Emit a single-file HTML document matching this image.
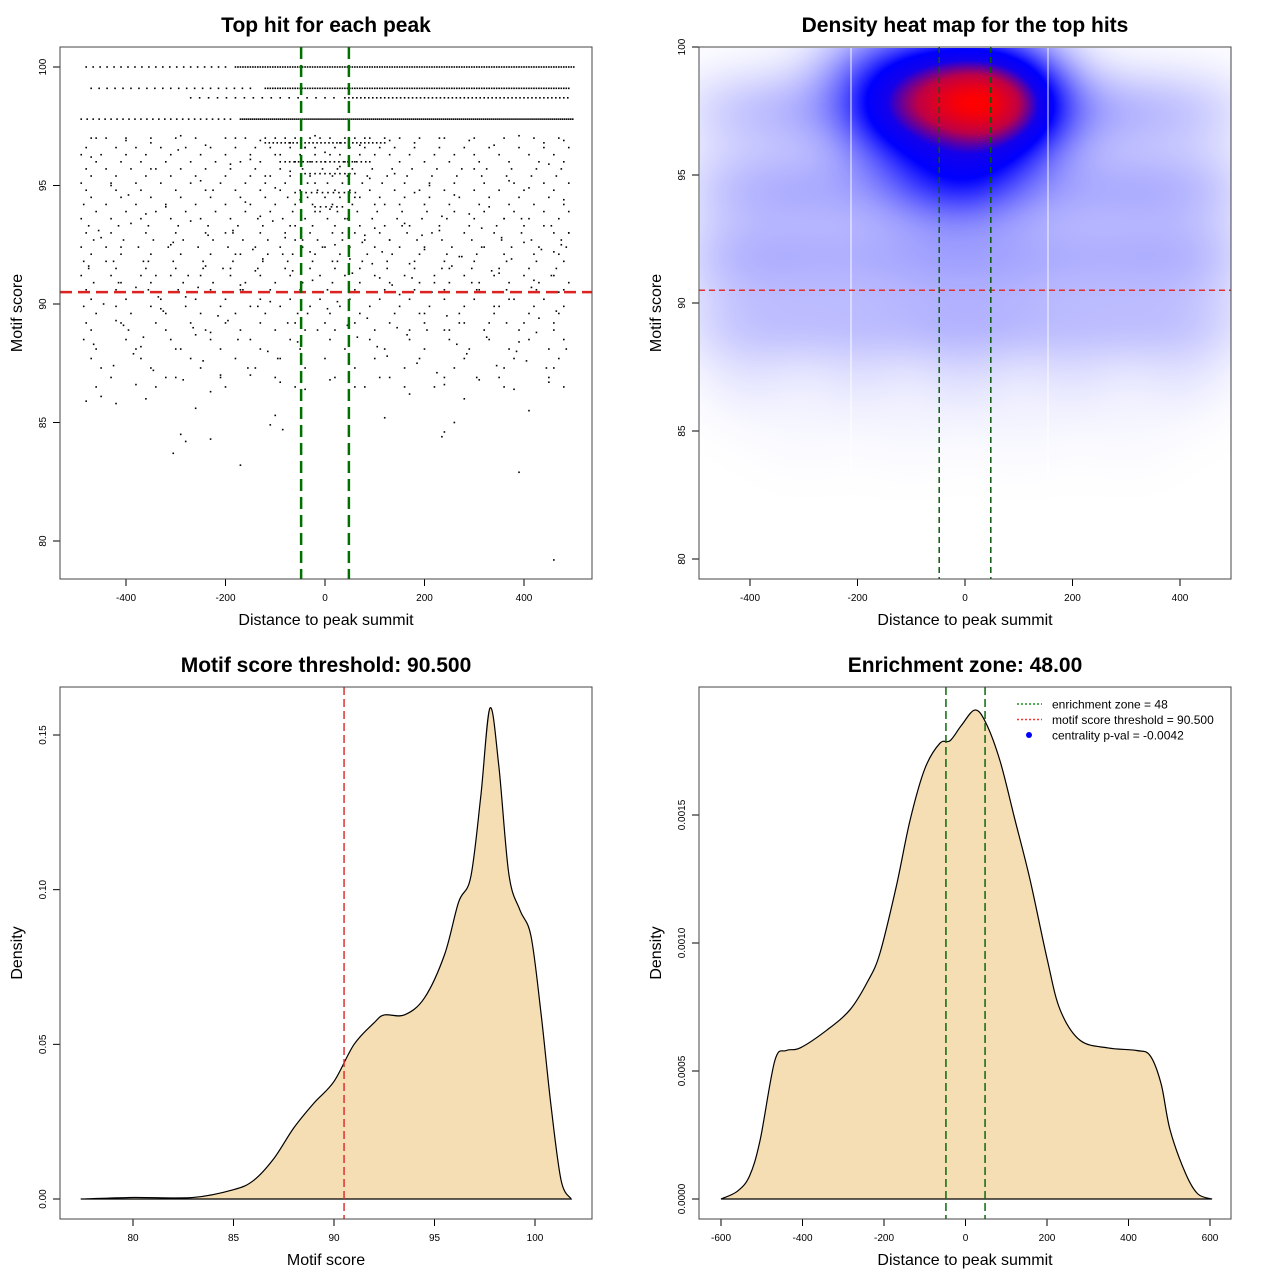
<!DOCTYPE html>
<html><head><meta charset="utf-8"><style>
body{margin:0;background:#fff;width:1280px;height:1280px;overflow:hidden;position:relative;font-family:"Liberation Sans",sans-serif}
#heat{position:absolute;left:700px;top:48px;z-index:0}
#main{position:absolute;left:0;top:0;z-index:1}
text{font-family:"Liberation Sans",sans-serif}
</style></head><body>
<canvas id="heat" width="531" height="531"></canvas>
<svg id="main" width="1280" height="1280" xmlns="http://www.w3.org/2000/svg"></svg>
<script>
// ---------- data ----------
const bandScores=[100,100,99.1,99.1,98.7,98.7,97.8,97.8,96.8,96.0,95.5,94.7,94.1];
const bandStarts=[-480,-180,-470,-120,-270,40,-490,-170,-120,-80,-40,-60,-20];
const bandEnds=[-200,500,-140,490,20,490,-190,500,120,90,60,70,40];
const bandGaps=[14,5,16,5,18,8,12,4,8,9,10,11,11];
const rowScores=[97.0,96.6,96.3,96.0,95.7,95.4,95.1,94.8,94.5,94.2,93.9,93.6,93.3,93.0,92.7,92.4,92.1,91.8,91.5,91.2,90.9,90.6,90.2,89.9,89.6,89.2,88.9,88.5,88.1,87.7,87.3,86.9,86.5];
const rowXs=[
[-470,-440,-400,-350,-300,-260,-200,-160,-120,-100,-80,-60,-30,-10,10,40,60,90,120,150,190,240,300,360,420,470],
[-480,-420,-380,-330,-280,-230,-180,-140,-110,-70,-40,-20,20,50,80,110,140,180,230,280,330,390,440,490],
[-490,-450,-400,-360,-310,-250,-200,-150,-100,-50,-20,10,30,70,100,130,170,220,260,300,350,410,460],
[-460,-410,-370,-320,-270,-220,-170,-130,-90,-60,-30,0,40,60,90,150,200,250,310,370,430,480],
[-480,-440,-390,-340,-290,-240,-190,-140,-90,-45,-5,25,55,95,135,175,225,275,325,375,425,475],
[-470,-420,-360,-310,-260,-200,-150,-110,-70,-30,15,45,85,125,165,215,265,315,365,415,465],
[-490,-430,-380,-330,-270,-210,-160,-120,-80,-35,5,35,75,115,160,210,260,320,380,440,490],
[-480,-420,-370,-300,-240,-180,-130,-90,-50,-15,20,50,90,140,190,240,300,350,400,460],
[-470,-410,-350,-290,-230,-170,-120,-75,-35,0,30,70,110,160,210,270,330,390,450],
[-485,-440,-380,-320,-260,-200,-150,-100,-60,-25,15,55,100,150,200,250,310,370,420,480],
[-460,-400,-340,-280,-220,-160,-110,-65,-20,25,65,105,155,205,260,320,380,440,490],
[-490,-430,-370,-310,-250,-190,-135,-85,-40,5,45,95,145,195,245,300,360,410,470],
[-475,-415,-355,-295,-235,-175,-125,-70,-25,20,70,120,170,230,290,345,400,455],
[-480,-430,-360,-300,-240,-185,-130,-80,-30,15,60,110,165,215,280,340,395,460,490],
[-465,-405,-345,-285,-225,-165,-115,-60,-15,35,80,130,185,235,295,355,415,475],
[-490,-440,-375,-315,-255,-195,-140,-90,-45,0,50,100,150,200,255,315,375,430,485],
[-470,-410,-350,-290,-230,-170,-115,-65,-20,30,85,135,190,245,305,360,420,470],
[-485,-425,-365,-305,-245,-185,-125,-75,-25,25,75,125,180,240,300,365,425,480],
[-475,-420,-360,-300,-245,-190,-135,-80,-30,20,70,125,180,235,295,350,410,465],
[-490,-430,-370,-310,-250,-190,-130,-70,-10,40,100,160,220,280,340,400,460],
[-465,-410,-350,-285,-225,-160,-100,-45,15,70,130,190,250,310,370,430,490],
[-480,-420,-355,-295,-230,-170,-110,-50,5,60,120,180,240,305,365,425,480],
[-470,-400,-330,-260,-200,-130,-70,-10,50,110,170,240,300,370,440],
[-485,-420,-350,-280,-210,-150,-90,-30,30,90,150,210,280,350,420,480],
[-460,-390,-320,-250,-180,-120,-55,10,70,140,200,270,340,410,470],
[-480,-410,-340,-270,-200,-130,-60,0,60,130,200,270,330,400,460],
[-470,-395,-320,-240,-170,-100,-40,20,100,170,250,320,390,460],
[-485,-400,-310,-230,-150,-70,10,90,170,250,330,410,480],
[-460,-380,-290,-210,-130,-50,40,120,200,290,370,450],
[-470,-370,-270,-180,-90,0,100,190,280,380,470],
[-450,-350,-250,-140,-40,60,160,260,360,460],
[-430,-320,-210,-100,20,130,240,350,450],
[-460,-340,-200,-60,80,220,360,480]];
const ptX=[-470,-455,-440,-430,-420,-410,-395,-380,-370,-360,-350,-340,-330,-320,-305,-295,-280,-270,-260,-250,-240,-225,-215,-200,-190,-180,-170,-160,-150,-140,-130,-120,-110,-100,-90,-80,-70,-60,-50,-40,-30,-20,-10,0,10,20,30,40,50,60,70,80,90,100,110,120,130,140,150,160,170,180,190,200,210,220,230,240,250,260,270,280,290,300,310,320,330,340,350,360,370,380,390,400,410,420,430,440,450,460,470,480,490,
-465,-445,-425,-405,-385,-365,-345,-325,-300,-285,-265,-245,-230,-210,-195,-175,-155,-135,-115,-95,-75,-55,-35,-15,5,25,45,65,85,105,125,145,165,185,205,225,245,265,285,305,325,345,365,385,405,425,445,465,485,
-475,-450,-415,-390,-355,-335,-310,-275,-255,-235,-205,-185,-165,-145,-125,-105,-85,-65,-45,-25,-5,15,35,55,75,95,115,135,155,175,195,215,235,255,275,295,315,335,355,375,395,415,435,455,475,
-460,-400,-350,-290,-240,-180,-130,-70,-20,30,80,130,180,230,290,340,390,440,480,
-450,-380,-300,-230,-150,-90,-40,10,60,110,170,240,310,380,450,-420,-260,-100,120,260,410,-290,-280,-230,-110,-85,240,235,390,460,-305,-170,280,160,-360,-480];
const ptY=[96.2,93.1,91.8,95.0,89.3,92.4,94.6,90.7,88.2,93.8,95.7,91.2,89.8,94.1,92.6,96.5,90.3,93.5,88.7,95.2,91.6,94.8,89.5,93.0,95.9,92.1,90.8,94.3,96.1,91.4,93.7,95.4,90.1,94.9,96.3,92.8,95.6,93.3,94.4,96.6,92.2,95.1,93.9,96.4,94.0,92.5,95.8,93.6,91.9,94.5,96.7,92.9,95.3,93.2,91.1,94.2,92.7,95.5,90.4,93.4,91.7,94.7,89.6,92.3,95.0,90.9,93.1,88.9,91.5,94.6,92.0,89.2,93.8,95.7,90.6,92.4,94.1,89.9,91.3,93.6,95.2,90.2,88.4,92.6,94.9,91.0,89.4,93.3,95.9,92.2,90.5,94.4,93.0,
88.3,90.0,87.4,89.1,87.9,88.6,87.2,89.7,88.1,86.8,89.0,87.6,88.8,87.0,89.3,88.5,87.3,89.9,88.0,87.7,89.2,88.4,89.6,88.9,89.8,90.1,89.1,88.6,89.4,88.2,87.8,89.0,88.7,87.5,88.9,87.1,89.5,88.3,87.9,86.9,88.6,87.4,89.2,88.0,87.6,88.8,87.3,89.7,88.1,
91.6,92.8,90.9,93.4,91.8,90.3,92.5,91.2,90.7,92.9,91.5,93.1,90.6,92.3,91.9,93.5,92.1,91.4,92.7,91.0,92.4,91.8,93.0,91.3,92.6,91.7,92.2,90.8,93.3,91.1,92.9,90.5,93.7,91.6,92.0,90.9,93.2,91.4,92.8,91.9,93.6,90.7,92.3,91.2,92.5,
97.0,96.9,96.8,97.1,96.7,97.0,96.9,96.8,97.1,96.8,97.0,96.9,96.8,97.0,96.9,96.7,97.1,96.8,96.9,
86.1,86.6,86.9,86.3,87.0,86.7,86.4,86.8,86.5,86.9,86.2,86.6,86.8,86.4,86.7,85.8,85.6,85.3,85.2,85.0,85.5,84.5,84.2,84.3,84.9,84.7,84.6,84.4,82.9,79.2,83.7,83.2,86.0,86.5,86.0,85.9];
// heat map kernel centers (distance, score, weight)
const kX=[-140,-80,-20,30,70,110,-200,-130,-60,0,60,120,-150,-80,0,60,120,-60,20,
-450,-350,-250,-150,-50,50,150,250,350,450,-450,-350,-250,-150,-50,50,150,250,350,450,-450,-350,-250,-150,-50,50,150,250,350,450,-450,-350,-250,-150,-50,50,150,250,350,450,-400,-200,0,200,400,-300,-100,100,300];
const kY=[97.8,97.8,97.8,97.8,97.8,97.8,99.2,99.4,99.4,99.4,99.4,99.2,96.3,96.0,95.8,96.0,96.3,94.6,94.6,
97.5,97.5,97.5,97.5,97.5,97.5,97.5,97.5,97.5,97.5,94.5,94.5,94.5,94.5,94.5,94.5,94.5,94.5,94.5,94.5,91.8,91.8,91.8,91.8,91.8,91.8,91.8,91.8,91.8,91.8,89.2,89.2,89.2,89.2,89.2,89.2,89.2,89.2,89.2,89.2,87.0,87.0,87.0,87.0,87.0,85.0,85.0,85.0,85.0];
const kW=[3.0,3.8,4.2,4.4,4.0,3.0,1.8,2.2,2.6,2.6,2.4,1.8,1.6,2.0,2.2,2.0,1.4,1.4,1.4,
1.1,1.4,1.6,1.6,1.6,1.6,1.6,1.6,1.4,1.1,1.3,1.6,1.5,1.5,1.7,1.7,1.5,1.5,1.6,1.4,1.5,1.5,1.4,1.5,1.7,1.7,1.5,1.4,1.5,1.5,1.1,1.2,1.2,1.2,1.4,1.4,1.2,1.2,1.2,1.1,0.55,0.6,0.7,0.6,0.55,0.18,0.22,0.22,0.18];
const dsX=[77.4,80,83,85,86,87,88,89,90,91,92,92.5,93.5,94.5,95.5,96.2,96.8,97.3,97.76,98.2,98.7,99.25,99.8,100.3,100.8,101.3,101.8];
const dsY=[0,0.0005,0.0005,0.003,0.006,0.013,0.023,0.031,0.038,0.05,0.057,0.0595,0.0595,0.065,0.079,0.096,0.104,0.13,0.1587,0.14,0.105,0.0934,0.085,0.06,0.03,0.006,0];
const ddX=[-600,-560,-530,-504,-468,-440,-406,-340,-283,-240,-210,-170,-136,-100,-63,-38,-10,23,50,85,120,158,200,232,281,350,420,453,480,502,540,570,605];
const ddY=[0,0.00003,0.00009,0.00023,0.00054,0.00058,0.00059,0.00066,0.00074,0.00085,0.00096,0.00122,0.00148,0.00168,0.00178,0.00179,0.00185,0.00191,0.00186,0.00171,0.00149,0.00125,0.00094,0.00074,0.00062,0.00059,0.00058,0.00056,0.00045,0.00027,0.0001,0.00002,0];
const xTicksA=[-400,-200,0,200,400];
const yTicksA=[80,85,90,95,100];
const xTicksC=[80,85,90,95,100];
const yTicksC=[0,0.05,0.10,0.15];const yTickLabC=["0.00","0.05","0.10","0.15"];
const xTicksD=[-600,-400,-200,0,200,400,600];
const yTicksD=[0,0.0005,0.001,0.0015];const yTickLabD=["0.0000","0.0005","0.0010","0.0015"];
const threshold=90.5, zone=48;

// ---------- helpers ----------
const NS="http://www.w3.org/2000/svg";
const svg=document.getElementById('main');
function mk(tag,attrs,parent){const e=document.createElementNS(NS,tag);for(const k in attrs)e.setAttribute(k,attrs[k]);(parent||svg).appendChild(e);return e;}
function txt(s,x,y,size,opts,parent){const e=mk('text',Object.assign({x:x,y:y,'font-size':size,'text-anchor':'middle',fill:'#000'},opts||{}),parent);e.textContent=s;return e;}
function lin(d0,d1,p0,p1){return v=>p0+(v-d0)*(p1-p0)/(d1-d0);}
function smooth(pts){let d='M'+pts[0][0]+','+pts[0][1];for(let i=0;i<pts.length-1;i++){const p0=pts[i-1]||pts[i],p1=pts[i],p2=pts[i+1],p3=pts[i+2]||p2;const c1x=p1[0]+(p2[0]-p0[0])/6,c1y=p1[1]+(p2[1]-p0[1])/6,c2x=p2[0]-(p3[0]-p1[0])/6,c2y=p2[1]-(p3[1]-p1[1])/6;d+=` C${c1x},${c1y} ${c2x},${c2y} ${p2[0]},${p2[1]}`;}return d;}
function axes(g,box,xt,xl,xs,yt,yl,ys,title,xlab,ylab){
  const by=box.y+box.h;
  xt.forEach((t,i)=>{const px=xs(t);const tk=mk('line',{x1:px,x2:px,y1:by,y2:by+7,stroke:'#000'},g);const l=txt(xl[i],px,by+22,10,{},g);});
  yt.forEach((t,i)=>{const py=ys(t);const tk=mk('line',{x1:box.x-7,x2:box.x,y1:py,y2:py,stroke:'#000'},g);const l=txt(yl[i],0,0,10,{transform:`translate(${box.x-14},${py}) rotate(-90)`},g);});
  const fr=mk('rect',{x:box.x,y:box.y,width:box.w,height:box.h,fill:'none',stroke:'#444'},g);
  const t=txt(title,box.x+box.w/2,box.y-15,21,{'font-weight':'bold'},g);
  const xa=txt(xlab,box.x+box.w/2,by+46,16,{},g);
  const ya=txt(ylab,0,0,16,{transform:`translate(${box.x-38},${box.y+box.h/2}) rotate(-90)`},g);
}

// ---------- panel A: scatter ----------
{
const g=mk('g',{});
const box={x:60,y:47,w:532,h:532};
const xs=lin(-400,400,126,524), ys=lin(100,80,67,541);
const pts=mk('g',{fill:'#000'},g);
bandScores.forEach((s,i)=>{for(let x=bandStarts[i];x<=bandEnds[i];x+=bandGaps[i]){mk('rect',{x:xs(x)-0.8,y:ys(s)-0.8,width:1.6,height:1.6},pts);}});
rowScores.forEach((s,i)=>{rowXs[i].forEach(x=>{const c=mk('rect',{x:xs(x)-0.8,y:ys(s)-0.8,width:1.6,height:1.6},pts);});});
ptX.forEach((x,i)=>{if(ptY[i]===undefined)return;const c=mk('rect',{x:xs(x)-0.8,y:ys(ptY[i])-0.8,width:1.6,height:1.6},pts);});
const r=mk('line',{x1:box.x,x2:box.x+box.w,y1:ys(threshold),y2:ys(threshold),stroke:'#d22','stroke-width':2.5,'stroke-dasharray':'12,6'},g);
[-zone,zone].forEach(z=>{const l=mk('line',{x1:xs(z),x2:xs(z),y1:box.y,y2:box.y+box.h,stroke:'#007000','stroke-width':2.5,'stroke-dasharray':'12,6'},g);});
axes(g,box,xTicksA,xTicksA.map(String),xs,yTicksA,yTicksA.map(String),ys,'Top hit for each peak','Distance to peak summit','Motif score');
}
// ---------- panel B: heatmap ----------
{
const box={x:699,y:47,w:532,h:532};
const xs=lin(-400,400,750,1180), ys=lin(100,80,47,559);
const cv=document.getElementById('heat');const ctx=cv.getContext('2d');const W=531,H=531;
const img=ctx.createImageData(W,H);const sx=70,sy=1.2;
const vals=new Float32Array(W*H);let mx=0;
const xInv=lin(750,1180,-400,400), yInv=lin(47,559,100,80);
for(let j=0;j<H;j++){const yv=yInv(j+48);for(let i=0;i<W;i++){const xv=xInv(i+700);let s=0;for(let k=0;k<kX.length;k++){const dx=(xv-kX[k])/sx,dy=(yv-kY[k])/sy;s+=kW[k]*Math.exp(-0.5*(dx*dx+dy*dy));}vals[j*W+i]=s;if(s>mx)mx=s;}}
const stops=[[0,255,255,255],[0.45,0,0,255],[0.6,20,0,235],[0.8,190,0,70],[1,255,0,0]];
for(let p=0;p<W*H;p++){let t=Math.min(1,vals[p]/mx);let c=[255,255,255];for(let q=0;q<stops.length-1;q++){const a=stops[q],b=stops[q+1];if(t>=a[0]&&t<=b[0]){const f=(t-a[0])/(b[0]-a[0]);c=[a[1]+(b[1]-a[1])*f,a[2]+(b[2]-a[2])*f,a[3]+(b[3]-a[3])*f];break;}}img.data[p*4]=c[0];img.data[p*4+1]=c[1];img.data[p*4+2]=c[2];img.data[p*4+3]=255;}
ctx.putImageData(img,0,0);
const g=mk('g',{});
[851,1048].forEach(px=>{const l=mk('line',{x1:px,x2:px,y1:box.y,y2:box.y+box.h,stroke:'#fff','stroke-width':1,opacity:0.9},g);});
const r=mk('line',{x1:box.x,x2:box.x+box.w,y1:ys(threshold),y2:ys(threshold),stroke:'#d33','stroke-width':1.5,'stroke-dasharray':'6,4'},g);
[-zone,zone].forEach(z=>{const l=mk('line',{x1:xs(z),x2:xs(z),y1:box.y,y2:box.y+box.h,stroke:'#0a5a0a','stroke-width':1.5,'stroke-dasharray':'6,4'},g);});
axes(g,box,xTicksA,xTicksA.map(String),xs,yTicksA,yTicksA.map(String),ys,'Density heat map for the top hits','Distance to peak summit','Motif score');
}
// ---------- panel C: score density ----------
{
const g=mk('g',{});
const box={x:60,y:687,w:532,h:532};
const xs=lin(80,100,133,535), ys=lin(0,0.15,1199,735);
const pts=dsX.map((x,i)=>[xs(x),ys(dsY[i])]);
const p=mk('path',{d:smooth(pts)+'Z',fill:'#f5deb3',stroke:'#000','stroke-width':1.2},g);
const l=mk('line',{x1:xs(threshold),x2:xs(threshold),y1:box.y,y2:box.y+box.h,stroke:'#e03030','stroke-width':1.5,'stroke-dasharray':'8,4'},g);
axes(g,box,xTicksC,xTicksC.map(String),xs,yTicksC,yTickLabC,ys,'Motif score threshold: 90.500','Motif score','Density');
}
// ---------- panel D: distance density ----------
{
const g=mk('g',{});
const box={x:699,y:687,w:532,h:532};
const xs=lin(-600,600,721,1210), ys=lin(0,0.0015,1199,815);
const pts=ddX.map((x,i)=>[xs(x),ys(ddY[i])]);
const p=mk('path',{d:smooth(pts)+'Z',fill:'#f5deb3',stroke:'#000','stroke-width':1.2},g);
[-zone,zone].forEach(z=>{const l=mk('line',{x1:xs(z),x2:xs(z),y1:box.y,y2:box.y+box.h,stroke:'#0a6a0a','stroke-width':1.5,'stroke-dasharray':'8,4'},g);});
axes(g,box,xTicksD,xTicksD.map(String),xs,yTicksD,yTickLabD,ys,'Enrichment zone: 48.00','Distance to peak summit','Density');
const lg=mk('g',{},g);
const items=[['enrichment zone = 48','#1f8f1f','line'],['motif score threshold = 90.500','#ff3030','line'],['centrality p-val = -0.0042','#0000ff','dot']];
items.forEach((it,i)=>{const y=704+i*15.5;
 if(it[2]=='line'){const l=mk('line',{x1:1017,x2:1042,y1:y,y2:y,stroke:it[1],'stroke-width':1.5,'stroke-dasharray':'2,2'},lg);}
 else{const c=mk('circle',{cx:1029,cy:y,r:3,fill:it[1]},lg);}
 const t=txt(it[0],1052,y+4.5,12,{'text-anchor':'start'},lg);});
}
</script>
</body></html>
